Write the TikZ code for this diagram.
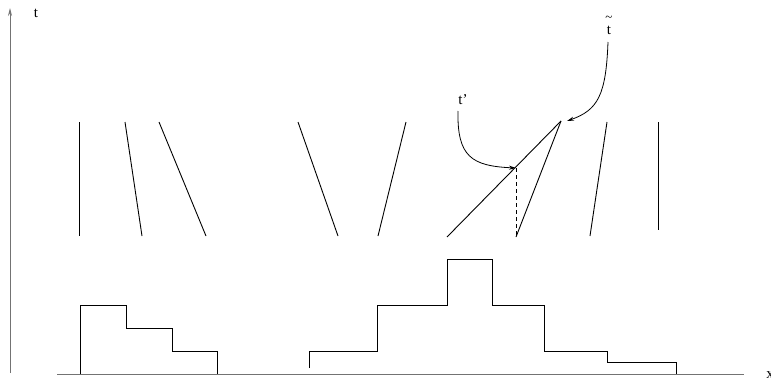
\documentclass[tikz,border=0pt]{standalone}
\usepackage{fontspec}
\setmainfont{Liberation Serif}
\usetikzlibrary{arrows.meta}
\begin{document}
\begin{tikzpicture}[x=1pt,y=-1pt,
  axis/.style={draw=black!55,line width=1pt},
  wave/.style={draw=black,line width=0.9pt},
  histo/.style={draw=black,line width=0.9pt},
  pointer/.style={draw=black,line width=0.8pt,-{Stealth[length=7pt,width=4pt,open]}},
  lbl/.style={font=\fontsize{15}{15}\selectfont,inner sep=0pt}]
\useasboundingbox (0,0) rectangle (771,380);

% axes
\coordinate (t0) at (10,373);
\coordinate (t1) at (10,8);
\coordinate (x0) at (57,374);
\coordinate (x1) at (744,374);
\draw[axis,-{Stealth[length=8pt,width=4pt]}] (t0) -- (t1);
\draw[axis] (x0) -- (x1);
\node[lbl] (tlab) at (36,13) {t};
\node[lbl] (xlab) at (770,375) {x};

% characteristic lines
\coordinate (a1) at (79,122);  \coordinate (b1) at (79,236);
\coordinate (a2) at (125,122); \coordinate (b2) at (142,236);
\coordinate (a3) at (159,122); \coordinate (b3) at (206,236);
\coordinate (a4) at (298,122); \coordinate (b4) at (338,236);
\coordinate (a5) at (406,122); \coordinate (b5) at (378,236);
\coordinate (a6) at (561,121); \coordinate (b6) at (447,237);
\coordinate (b7) at (516,237);
\coordinate (a8) at (607,122); \coordinate (b8) at (590,236);
\coordinate (a9) at (658,122); \coordinate (b9) at (658,230);
\coordinate (m) at (516,168);
\foreach \i in {1,2,3,4,5,6,8,9} \draw[wave] (a\i) -- (b\i);
\draw[wave] (a6) -- (b7);
\draw[wave,dashed,dash pattern=on 4pt off 3pt] (m) -- (b7);

% labels with pointers
\node[lbl] (tp) at (463,100) {t’};
\node[lbl] (tt) at (609,30) {t};
\node[lbl,font=\fontsize{13}{13}\selectfont] (ttilde) at (609,19) {\textasciitilde};
\draw[pointer] (458,111) .. controls (457,157) and (472,166) .. (m);
\draw[pointer] (608,42) .. controls (606,95) and (598,110) .. (567,121);

% left histogram
\draw[histo] (80,374) -- (80,305) -- (126,305) -- (126,328) -- (172,328)
  -- (172,351) -- (217,351) -- (217,374);

% right histogram
\draw[histo] (309,368) -- (309,351) -- (377,351) -- (377,305) -- (447,305)
  -- (447,259) -- (492,259) -- (492,305) -- (544,305) -- (544,351)
  -- (607,351) -- (607,362) -- (676,362) -- (676,374);
\end{tikzpicture}
\end{document}
